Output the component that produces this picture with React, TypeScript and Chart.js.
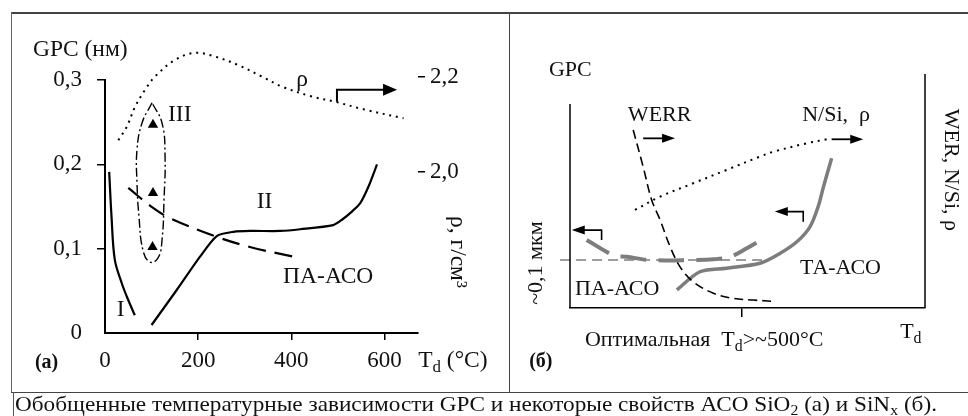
import React, { useEffect, useRef } from 'react';
import { Chart, registerables } from 'chart.js';

Chart.register(...registerables);

const SERIF = '"Liberation Serif", "Times New Roman", Times, serif';
const INK = '#111';
const GRAY = '#7d7d7d';

// ---------- Panel (a): SiO2 ----------
const T_TICKS = [0, 200, 400, 600];
const GPC_TICKS = [0, 0.1, 0.2, 0.3];
const RHO_TICKS = [2.0, 2.2];
const T_MAX = 672;
const GPC_MAX = 0.3;
const RHO_MIN = 1.661;
const RHO_MAX = 2.1937;

// curve I
const T_I = [9, 14, 21, 36, 47, 64];
const GPC_I = [0.191, 0.138, 0.087, 0.059, 0.043, 0.021];
// curve II
const T_II = [100, 154, 204, 240, 276, 312, 376, 419, 490, 508, 530, 548, 566, 584];
const GPC_II = [0.0095, 0.051, 0.0905, 0.115, 0.12, 0.121, 0.121, 0.123, 0.128, 0.134, 0.144, 0.154, 0.174, 0.2];
// ПА-АСО (dashed)
const T_PA = [50, 104, 140, 240, 311, 404];
const GPC_PA = [0.172, 0.148, 0.136, 0.114, 0.102, 0.0905];
// region III outline (dash-dot)
const T_III = [101, 79.5, 68.7, 68.7, 73, 81.6, 96.7, 113.9, 122.4, 126.7, 128.9, 122.4, 101];
const GPC_III = [0.273, 0.249, 0.217, 0.178, 0.138, 0.098, 0.084, 0.089, 0.11, 0.158, 0.21, 0.249, 0.273];
// triangles in III
const T_TRI = [103, 103, 102];
const GPC_TRI = [0.247, 0.166, 0.102];
// density rho (dotted, right axis)
const T_RHO = [28.6, 46.6, 64.4, 85.9, 107.4, 150.4, 193.3, 236.3, 286.4, 336.7, 379.6, 444, 494, 555, 641];
const RHO = [2.067, 2.095, 2.137, 2.173, 2.201, 2.236, 2.251, 2.243, 2.225, 2.201, 2.18, 2.159, 2.148, 2.132, 2.113];

// ---------- Panel (б): SiNx (relative units 0..100) ----------
const TD_OPT = [48.3];
const X_WERR = [17.8, 20.6, 23.0, 25.4, 28.2, 31.0, 34.7, 40.4, 46.0, 51.6, 57.7];
const Y_WERR = [76.1, 60.4, 46.2, 37.6, 26.2, 17.6, 11.2, 6.3, 4.1, 3.4, 2.8];
const X_NSI = [18.3, 25.4, 34.7, 44.1, 53.5, 57.3, 66.7, 72.3];
const Y_NSI = [41.9, 47.6, 53.3, 59.0, 64.7, 66.8, 70.4, 72.1];
const X_REF = [-2.8, 54.6];
const Y_REF = [20.5, 20.5];
const X_PAB = [4.7, 12.2, 16.0, 22.5, 34.7, 40.4, 45.1, 49.8, 53.0];
const Y_PAB = [29.1, 22.6, 21.9, 20.5, 20.5, 20.8, 21.9, 25.5, 28.3];
const X_TAB = [30.1, 36.6, 44.1, 53.5, 59.2, 63.9, 67.6, 69.9, 71.4, 73.7];
const Y_TAB = [7.7, 15.5, 17.0, 19.1, 23.4, 28.3, 34.7, 43.3, 51.8, 64.0];

const CAPTION_WIDTH = 922;

type Pt = [number, number];
type Part = { t: string; sub?: boolean };
type Label = { parts: Part[]; at: Pt; axis?: string; align?: 'left' | 'center'; rot?: number; bold?: boolean; size?: number };
type Path = { pts: Pt[]; axis?: string; width?: number; head?: [number, number] };

function makeOverlay(id: string, fontSize: number, paths: Path[], labels: Label[]) {
  return {
    id,
    afterDatasetsDraw(chart: any) {
      const ctx: CanvasRenderingContext2D = chart.ctx;
      const sx = chart.scales.x;
      const px = (p: Pt, axis = 'y'): Pt => [sx.getPixelForValue(p[0]), chart.scales[axis].getPixelForValue(p[1])];
      ctx.save();
      ctx.strokeStyle = '#000';
      ctx.fillStyle = '#000';
      ctx.setLineDash([]);
      ctx.lineCap = 'butt';
      ctx.lineJoin = 'miter';
      for (const path of paths) {
        const q = path.pts.map((p) => px(p, path.axis));
        const n = q.length;
        ctx.lineWidth = path.width ?? 1.5;
        ctx.beginPath();
        ctx.moveTo(q[0][0], q[0][1]);
        if (path.head) {
          const [L, W] = path.head;
          const end = q[n - 1];
          const prev = q[n - 2];
          const ang = Math.atan2(end[1] - prev[1], end[0] - prev[0]);
          for (let i = 1; i < n - 1; i++) ctx.lineTo(q[i][0], q[i][1]);
          ctx.lineTo(end[0] - Math.cos(ang) * (L - 2), end[1] - Math.sin(ang) * (L - 2));
          ctx.stroke();
          const bx = end[0] - Math.cos(ang) * L;
          const by = end[1] - Math.sin(ang) * L;
          ctx.beginPath();
          ctx.moveTo(end[0], end[1]);
          ctx.lineTo(bx + Math.sin(ang) * W, by - Math.cos(ang) * W);
          ctx.lineTo(bx - Math.sin(ang) * W, by + Math.cos(ang) * W);
          ctx.closePath();
          ctx.fill();
        } else {
          for (let i = 1; i < n; i++) ctx.lineTo(q[i][0], q[i][1]);
          ctx.stroke();
        }
      }
      ctx.fillStyle = INK;
      ctx.textBaseline = 'middle';
      ctx.textAlign = 'left';
      for (const lb of labels) {
        const [x, y] = px(lb.at, lb.axis);
        const size = lb.size ?? fontSize;
        const fonts = lb.parts.map((p) => `${lb.bold ? 'bold ' : ''}${p.sub ? size * 0.72 : size}px ${SERIF}`);
        const widths = lb.parts.map((p, i) => {
          ctx.font = fonts[i];
          return ctx.measureText(p.t).width;
        });
        const total = widths.reduce((a, b) => a + b, 0);
        ctx.save();
        ctx.translate(x, y);
        if (lb.rot) ctx.rotate((lb.rot * Math.PI) / 180);
        let cx = lb.align === 'center' ? -total / 2 : 0;
        lb.parts.forEach((p, i) => {
          ctx.font = fonts[i];
          ctx.fillText(p.t, cx, p.sub ? size * 0.3 : 0);
          cx += widths[i];
        });
        ctx.restore();
      }
      ctx.restore();
    },
  };
}

const xy = (xs: number[], ys: number[]) => xs.map((x, i) => ({ x, y: ys[i] }));
const lineDs = (data: any[], extra: any) => ({
  type: 'line',
  data,
  pointRadius: 0,
  fill: false,
  borderColor: '#000',
  borderWidth: 2,
  tension: 0.35,
  clip: false,
  ...extra,
});
const comma = (v: number) => (v === 0 ? '0' : v.toFixed(1).replace('.', ','));
const setTicks = (vals: number[]) => (s: any) => {
  s.ticks = vals.map((value) => ({ value }));
};
const hideZero = (c: any) => (c.tick && c.tick.value === 0 ? 'rgba(0,0,0,0)' : '#000');

function configA(): any {
  const tickFont = { family: SERIF, size: 23 };
  return {
    type: 'line',
    data: {
      datasets: [
        lineDs(xy(T_I, GPC_I), { borderWidth: 2.2 }),
        lineDs(xy(T_II, GPC_II), { borderWidth: 2.2, tension: 0.25 }),
        lineDs(xy(T_PA, GPC_PA), { borderWidth: 2.2, borderDash: [18, 9] }),
        lineDs(xy(T_III, GPC_III), { borderWidth: 1.4, borderDash: [9, 3, 2, 3], tension: 0.45 }),
        lineDs(xy(T_RHO, RHO), { yAxisID: 'y1', borderWidth: 2, borderDash: [2, 4.8] }),
        {
          type: 'line',
          data: xy(T_TRI, GPC_TRI),
          showLine: false,
          pointStyle: 'triangle',
          pointRadius: 6,
          pointBackgroundColor: '#000',
          pointBorderWidth: 0,
          clip: false,
        },
      ],
    },
    options: {
      responsive: false,
      animation: false,
      devicePixelRatio: 1,
      events: [],
      layout: { padding: { left: 0, right: 0, top: 80, bottom: 0 } },
      plugins: { legend: { display: false }, tooltip: { enabled: false } },
      scales: {
        x: {
          type: 'linear',
          min: 0,
          max: T_MAX,
          afterBuildTicks: setTicks(T_TICKS),
          afterFit: (s: any) => {
            s.height = 83;
          },
          border: { display: true, color: '#000', width: 2 },
          grid: { drawOnChartArea: false, drawTicks: true, tickLength: 7, lineWidth: 1.5, color: hideZero },
          ticks: { font: tickFont, color: INK, padding: 7, autoSkip: false, maxRotation: 0, callback: (v: number) => String(v) },
        },
        y: {
          type: 'linear',
          position: 'left',
          min: 0,
          max: GPC_MAX,
          afterBuildTicks: setTicks(GPC_TICKS),
          afterFit: (s: any) => {
            s.width = 105;
          },
          border: { display: true, color: '#000', width: 2 },
          grid: { drawOnChartArea: false, drawTicks: true, tickLength: 8, lineWidth: 1.5, color: hideZero },
          ticks: { font: tickFont, color: INK, padding: 15, autoSkip: false, callback: (v: number) => comma(v) },
        },
        y1: {
          type: 'linear',
          position: 'right',
          min: RHO_MIN,
          max: RHO_MAX,
          afterBuildTicks: setTicks(RHO_TICKS),
          afterFit: (s: any) => {
            s.width = 550;
          },
          border: { display: false },
          grid: { drawOnChartArea: false, drawTicks: true, tickLength: 7, lineWidth: 1.5, color: '#000' },
          ticks: { font: tickFont, color: INK, padding: 5, autoSkip: false, callback: (v: number) => comma(v) },
        },
      },
    },
    plugins: [
      makeOverlay(
        'overlayA',
        23.5,
        [{ pts: [[498, 2.148], [498, 2.173], [627, 2.173]], axis: 'y1', width: 2, head: [14, 6] }],
        [
          { parts: [{ t: 'GPC (нм)' }], at: [-154.7, 0.3356] },
          { parts: [{ t: 'III' }], at: [135.3, 0.2585] },
          { parts: [{ t: 'ρ' }], at: [423, 0.3], align: 'center' },
          { parts: [{ t: 'II' }], at: [325.9, 0.1553] },
          { parts: [{ t: 'ПА-АСО' }], at: [382.4, 0.0664] },
          { parts: [{ t: 'I' }], at: [25.1, 0.0273] },
          { parts: [{ t: '(a)' }], at: [-150.4, -0.0356], bold: true, size: 20 },
          { parts: [{ t: 'T' }, { t: 'd', sub: true }, { t: ' (°C)' }], at: [672.4, -0.0332] },
          { parts: [{ t: 'ρ, г/см³' }], at: [756.2, 0.096], align: 'center', rot: 90 },
        ]
      ),
    ],
  };
}

function configB(): any {
  return {
    type: 'line',
    data: {
      datasets: [
        lineDs(xy(X_REF, Y_REF), { borderColor: GRAY, borderWidth: 1.5, borderDash: [10, 6], tension: 0 }),
        lineDs(xy(X_WERR, Y_WERR), { borderWidth: 1.6, borderDash: [9, 5] }),
        lineDs(xy(X_NSI, Y_NSI), { borderWidth: 2, borderDash: [2, 5] }),
        lineDs(xy(X_PAB, Y_PAB), { borderColor: GRAY, borderWidth: 4, borderDash: [26, 12] }),
        lineDs(xy(X_TAB, Y_TAB), { borderColor: GRAY, borderWidth: 3.5, tension: 0.3 }),
      ],
    },
    options: {
      responsive: false,
      animation: false,
      devicePixelRatio: 1,
      events: [],
      layout: { padding: { left: 570, right: 43, top: 74, bottom: 0 } },
      plugins: { legend: { display: false }, tooltip: { enabled: false } },
      scales: {
        x: {
          type: 'linear',
          min: 0,
          max: 100,
          afterBuildTicks: setTicks(TD_OPT),
          afterFit: (s: any) => {
            s.height = 108;
          },
          border: { display: true, color: '#000', width: 1.5 },
          grid: { drawOnChartArea: false, drawTicks: true, tickLength: 9, lineWidth: 1.5, color: '#000' },
          ticks: { padding: 0, autoSkip: false, maxRotation: 0, callback: () => '' },
        },
        y: { type: 'linear', display: false, min: 0, max: 100 },
      },
    },
    plugins: [
      makeOverlay(
        'overlayB',
        22,
        [
          { pts: [[0, 87.2], [0, 0]], width: 1.5 },
          { pts: [[100, 100], [100, 0]], width: 1.5 },
          { pts: [[20.6, 72.5], [29.6, 72.5]], width: 1.8, head: [13, 4.5] },
          { pts: [[73.7, 72.1], [82.6, 72.1]], width: 1.8, head: [13, 4.5] },
          { pts: [[8.9, 29.1], [8.9, 33.3], [0.5, 33.3]], width: 1.6, head: [13, 4.5] },
          { pts: [[65.7, 36.9], [65.7, 41.2], [57.7, 41.2]], width: 1.6, head: [13, 4.5] },
        ],
        [
          { parts: [{ t: 'GPC' }], at: [-5.92, 101.7] },
          { parts: [{ t: 'WERR' }], at: [16.3, 82.5] },
          { parts: [{ t: 'N/Si,  ρ' }], at: [65.4, 82.5] },
          { parts: [{ t: 'WER, N/Si, ρ' }], at: [107.3, 59], align: 'center', rot: 90 },
          { parts: [{ t: '~0,1 мкм' }], at: [-9.6, 19.2], align: 'center', rot: -90 },
          { parts: [{ t: 'ПА-АСО' }], at: [1.4, 8.1] },
          { parts: [{ t: 'ТА-АСО' }], at: [64.8, 17.1] },
          { parts: [{ t: 'Оптимальная  T' }, { t: 'd', sub: true }, { t: '>~500°C' }], at: [4.2, -13.7] },
          { parts: [{ t: 'T' }, { t: 'd', sub: true }], at: [93, -10.3] },
          { parts: [{ t: '(б)' }], at: [-11.5, -23.1], bold: true, size: 20 },
        ]
      ),
    ],
  };
}

const line = (left: number, top: number, width: number, height: number, color = '#4a4a4a') => (
  <div style={{ position: 'absolute', left, top, width, height, background: color }} />
);

export default function App() {
  const refA = useRef<HTMLCanvasElement>(null);
  const refB = useRef<HTMLCanvasElement>(null);
  const capRef = useRef<HTMLDivElement>(null);

  useEffect(() => {
    const a = new Chart(refA.current as HTMLCanvasElement, configA());
    const b = new Chart(refB.current as HTMLCanvasElement, configB());
    const cap = capRef.current;
    if (cap) {
      const w = cap.offsetWidth;
      if (w > 0) cap.style.transform = `scaleX(${CAPTION_WIDTH / w})`;
    }
    return () => {
      a.destroy();
      b.destroy();
    };
  }, []);

  const canvasStyle: React.CSSProperties = { position: 'absolute', left: 0, top: 0, width: 968, height: 416 };
  const sub: React.CSSProperties = { fontSize: '0.68em', position: 'relative', top: '0.3em' };

  return (
    <div style={{ position: 'fixed', left: 0, top: 0, width: 968, height: 416, background: '#fff', overflow: 'hidden' }}>
      {line(11, 12, 957, 1.5, '#444')}
      {line(10.5, 12, 1.2, 380, '#666')}
      {line(508.5, 12, 1.2, 380, '#444')}
      {line(10.5, 391.5, 958, 1.3, '#444')}
      {line(12.5, 392, 1.2, 24, '#555')}
      <canvas ref={refA} width={968} height={416} style={canvasStyle} />
      <canvas ref={refB} width={968} height={416} style={canvasStyle} />
      <div
        ref={capRef}
        style={{
          position: 'absolute',
          left: 15,
          top: 392,
          height: 24,
          lineHeight: '24px',
          fontSize: 21,
          fontFamily: SERIF,
          color: INK,
          whiteSpace: 'nowrap',
          display: 'inline-block',
          transformOrigin: 'left center',
        }}
      >
        Обобщенные температурные зависимости GPC и некоторые свойств АСО SiO<span style={sub}>2</span> (а) и SiN
        <span style={sub}>x</span> (б).
      </div>
    </div>
  );
}
